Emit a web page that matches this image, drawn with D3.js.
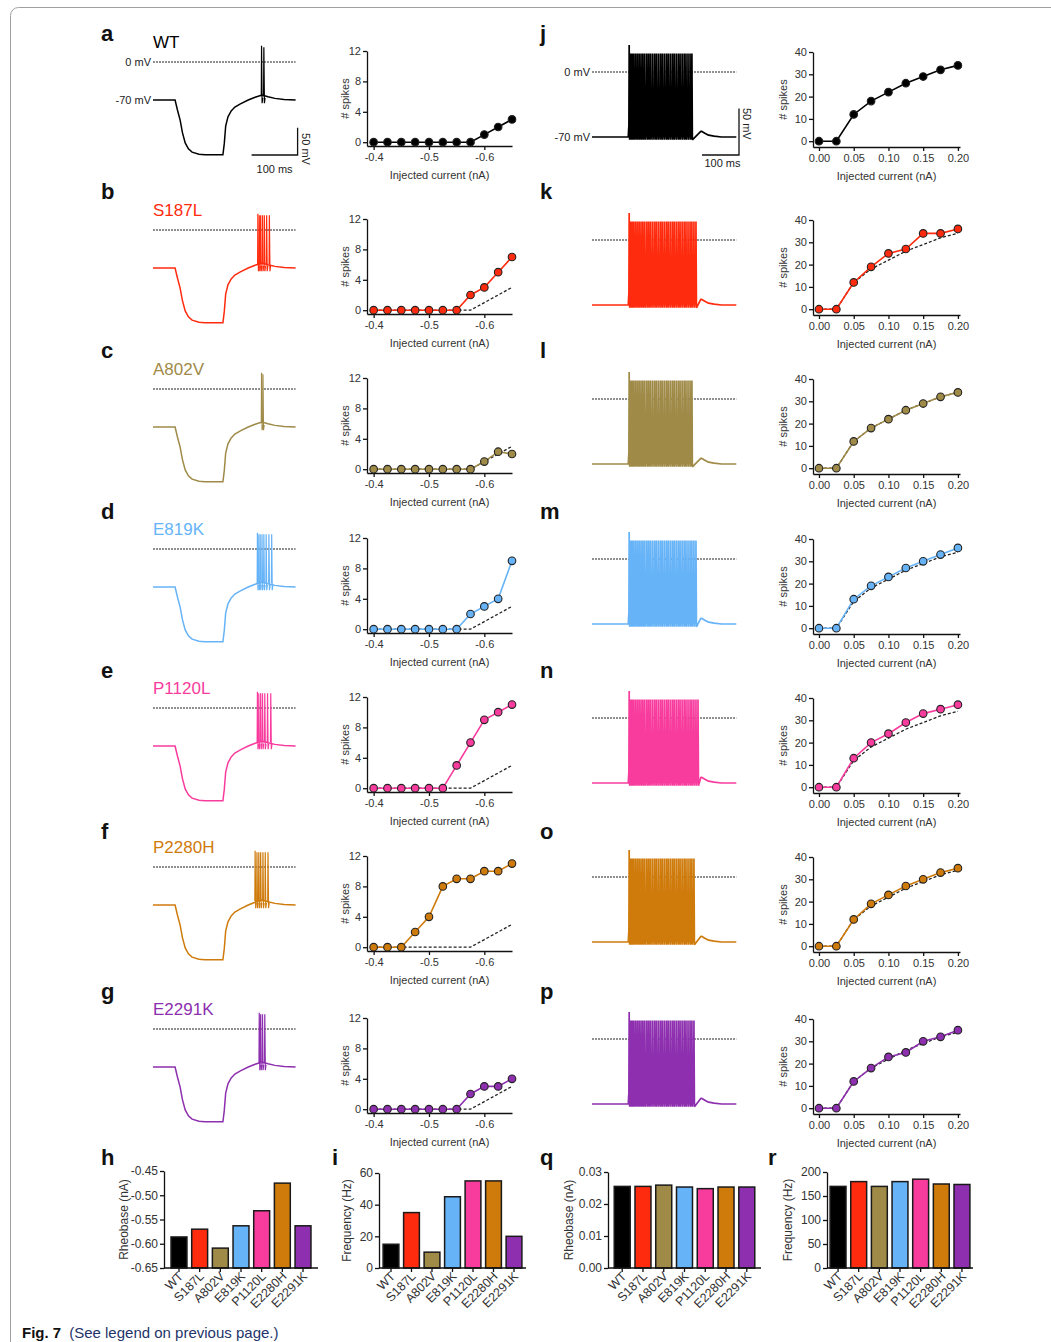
<!DOCTYPE html>
<html>
<head>
<meta charset="utf-8">
<script src="https://cdn.jsdelivr.net/npm/d3@7"></script>
<style>
  body { margin: 0; background: #fff; }
  svg text { font-family: Arial, "Liberation Sans", Helvetica, sans-serif; }
</style>
</head>
<body>
<svg id="fig" width="1051" height="1342"></svg>
<script>
// ---------------- data ----------------
const variants = ['WT', 'S187L', 'A802V', 'E819K', 'P1120L', 'P2280H', 'E2291K'];
const barCategories = ['WT', 'S187L', 'A802V', 'E819K', 'P1120L', 'E2280H', 'E2291K'];
const variantColors = ['#000000', '#ff2b0e', '#9f8a48', '#66b3f7', '#f73c9e', '#cf7b0c', '#8d2fae'];
const leftLetters = ['a', 'b', 'c', 'd', 'e', 'f', 'g'];
const rightLetters = ['j', 'k', 'l', 'm', 'n', 'o', 'p'];

// spikes vs hyperpolarising current (left column)
const hypCurrents = [-0.4, -0.425, -0.45, -0.475, -0.5, -0.525, -0.55, -0.575, -0.6, -0.625, -0.65];
const hypWT     = [0, 0, 0, 0, 0, 0, 0, 0, 1, 2, 3];
const hypS187L  = [0, 0, 0, 0, 0, 0, 0, 2, 3, 5, 7];
const hypA802V  = [0, 0, 0, 0, 0, 0, 0, 0, 1, 2.3, 2];
const hypE819K  = [0, 0, 0, 0, 0, 0, 0, 2, 3, 4, 9];
const hypP1120L = [0, 0, 0, 0, 0, 0, 3, 6, 9, 10, 11];
const hypP2280H = [0, 0, 0, 2, 4, 8, 9, 9, 10, 10, 11];
const hypE2291K = [0, 0, 0, 0, 0, 0, 0, 2, 3, 3, 4];
const hypTicks = [-0.4, -0.5, -0.6];
const hypSpikeTicks = [0, 4, 8, 12];

// spikes vs depolarising current (right column)
const depCurrents = [0, 0.025, 0.05, 0.075, 0.1, 0.125, 0.15, 0.175, 0.2];
const depWT     = [0, 0, 12, 18, 22, 26, 29, 32, 34];
const depS187L  = [0, 0, 12, 19, 25, 27, 34, 34, 36];
const depA802V  = [0, 0, 12, 18, 22, 26, 29, 32, 34];
const depE819K  = [0, 0, 13, 19, 23, 27, 30, 33, 36];
const depP1120L = [0, 0, 13, 20, 24, 29, 33, 35, 37];
const depP2280H = [0, 0, 12, 19, 23, 27, 30, 33, 35];
const depE2291K = [0, 0, 12, 18, 23, 25, 30, 32, 35];
const depTicks = [0, 0.05, 0.1, 0.15, 0.2];
const depSpikeTicks = [0, 10, 20, 30, 40];

// summary bars
const rheobaseHyp = [-0.586, -0.570, -0.609, -0.563, -0.532, -0.475, -0.563];
const freqHyp = [15, 35, 10, 45, 55, 55, 20];
const rheobaseDep = [0.0255, 0.0255, 0.0259, 0.0253, 0.0248, 0.0253, 0.0253];
const freqDep = [170, 180, 170, 180, 185, 175, 174];
const rheobaseHypTicks = [-0.65, -0.6, -0.55, -0.5, -0.45];
const freqHypTicks = [0, 20, 40, 60];
const rheobaseDepTicks = [0, 0.01, 0.02, 0.03];
const freqDepTicks = [0, 50, 100, 150, 200];

// example traces: rebound after hyperpolarising step (ms, mV)
const reboundTime = [0, 48, 53, 59, 64, 70, 77, 85, 100, 113, 152, 155, 158, 163, 170, 178, 190, 207, 222, 237, 250, 265, 285, 310];
const reboundVm   = [-70, -70, -88, -107, -130, -149, -160, -166, -170, -171, -171, -150, -118, -101, -90, -83, -77, -70, -65, -61, -64, -67, -69, -70];
const reboundSpikesWT     = [236, 241];
const reboundSpikesS187L  = [228, 231, 234, 238, 242, 247, 253];
const reboundSpikesA802V  = [236, 239];
const reboundSpikesE819K  = [227, 230, 233, 237, 241, 246, 252, 258];
const reboundSpikesP1120L = [227, 230, 234, 238, 243, 249, 256];
const reboundSpikesP2280H = [222, 226, 230, 234, 239, 244, 250];
const reboundSpikesE2291K = [231, 234, 238, 243];

// example traces: depolarising step (ms, mV)
const stepPreTime  = [0, 98, 99];
const stepPreVm    = [-70, -70, -62];
const stepPostTime = [294, 297, 305, 315, 330, 350, 390];
const stepPostVm   = [-64, -64, -66, -68, -69, -70, -70];
const stepOnset = 99;
const trainSpikeTimes = [1.5, 5, 9, 13.5, 18.5, 23.5, 28.5, 33.5, 38.5, 43.5, 49, 54, 59, 64.5, 70, 75,
  80.5, 86, 91, 96.5, 102, 107, 112.5, 118, 123, 128.5, 134, 139, 144.5, 150, 155, 160.5, 166, 171,
  176.5, 182, 187.5];

const hypSeries = [hypWT, hypS187L, hypA802V, hypE819K, hypP1120L, hypP2280H, hypE2291K];
const depSeries = [depWT, depS187L, depA802V, depE819K, depP1120L, depP2280H, depE2291K];
const reboundSpikes = [reboundSpikesWT, reboundSpikesS187L, reboundSpikesA802V, reboundSpikesE819K,
  reboundSpikesP1120L, reboundSpikesP2280H, reboundSpikesE2291K];

// ---------------- layout ----------------
const rowOffsets = [0, 168, 327, 487, 646, 805, 967];
const letterY = [41, 199, 358, 519, 678, 839, 999];
const tickFont = 11;

const svg = d3.select('#fig');

svg.append('rect')
  .attr('x', 10.5).attr('y', 7.5)
  .attr('width', 1100).attr('height', 1400).attr('rx', 8)
  .attr('fill', 'none').attr('stroke', '#a0a0a0');

function styleAxis(g) {
  g.selectAll('path, line').attr('stroke', '#111').attr('stroke-width', 1.3);
  g.selectAll('text').attr('font-size', tickFont).attr('fill', '#333')
    .attr('font-family', 'Arial, "Liberation Sans", sans-serif');
}

class FIChart {
  constructor(_config, _data) {
    this.config = {
      parent: _config.parent,
      xDomain: _config.xDomain,
      xRange: _config.xRange,
      yDomain: _config.yDomain,
      yRange: _config.yRange,
      xTicks: _config.xTicks,
      yTicks: _config.yTicks,
      xFormat: _config.xFormat,
      color: _config.color,
      labelOffset: _config.labelOffset
    };
    this.data = _data;
    this.initVis();
  }

  initVis() {
    let vis = this;
    vis.xScale = d3.scaleLinear().domain(vis.config.xDomain).range(vis.config.xRange);
    vis.yScale = d3.scaleLinear().domain(vis.config.yDomain).range(vis.config.yRange);
    vis.chart = vis.config.parent.append('g');

    vis.xAxis = d3.axisBottom(vis.xScale).tickValues(vis.config.xTicks)
      .tickFormat(vis.config.xFormat).tickSize(4).tickSizeOuter(0).tickPadding(3);
    vis.yAxis = d3.axisLeft(vis.yScale).tickValues(vis.config.yTicks)
      .tickFormat(d => d).tickSize(4).tickSizeOuter(0).tickPadding(2);

    vis.chart.append('g')
      .attr('transform', `translate(0,${vis.config.yRange[0]})`)
      .call(vis.xAxis).call(styleAxis);
    vis.chart.append('g')
      .attr('transform', `translate(${vis.config.xRange[0]},0)`)
      .call(vis.yAxis).call(styleAxis);

    vis.chart.append('text')
      .attr('x', (vis.config.xRange[0] + vis.config.xRange[1]) / 2)
      .attr('y', vis.config.yRange[0] + 33)
      .attr('text-anchor', 'middle').attr('font-size', 11).attr('fill', '#333')
      .text('Injected current (nA)');
    const cy = (vis.config.yRange[0] + vis.config.yRange[1]) / 2;
    const cx = vis.config.xRange[0] - vis.config.labelOffset;
    vis.chart.append('text')
      .attr('transform', `translate(${cx},${cy}) rotate(-90)`)
      .attr('text-anchor', 'middle').attr('font-size', 11).attr('fill', '#333')
      .text('# spikes');

    vis.renderVis();
  }

  renderVis() {
    let vis = this;
    const line = d3.line().x(d => vis.xScale(d[0])).y(d => vis.yScale(d[1]));

    if (vis.data.ref) {
      vis.chart.append('path')
        .attr('d', line(vis.data.x.map((x, i) => [x, vis.data.ref[i]])))
        .attr('fill', 'none').attr('stroke', '#222').attr('stroke-width', 1.3)
        .attr('stroke-dasharray', '3,2');
    }
    const pts = vis.data.x.map((x, i) => [x, vis.data.y[i]]);
    vis.chart.append('path')
      .attr('d', line(pts))
      .attr('fill', 'none').attr('stroke', vis.config.color).attr('stroke-width', 1.6);
    vis.chart.selectAll('.pt')
      .data(pts)
      .join('circle')
      .attr('class', 'pt')
      .attr('cx', d => vis.xScale(d[0]))
      .attr('cy', d => vis.yScale(d[1]))
      .attr('r', 3.8)
      .attr('fill', vis.config.color)
      .attr('stroke', '#222').attr('stroke-width', 1.1);
  }
}

class BarChart {
  constructor(_config, _data) {
    this.config = {
      parent: _config.parent,
      xRange: _config.xRange,
      paddingOuter: _config.paddingOuter,
      yDomain: _config.yDomain,
      yRange: _config.yRange,
      yTicks: _config.yTicks,
      yFormat: _config.yFormat,
      yLabel: _config.yLabel,
      labelOffset: _config.labelOffset
    };
    this.data = _data;
    this.initVis();
  }

  initVis() {
    let vis = this;
    vis.xScale = d3.scaleBand()
      .domain(barCategories)
      .range(vis.config.xRange)
      .paddingInner(0.23)
      .paddingOuter(vis.config.paddingOuter);
    vis.yScale = d3.scaleLinear().domain(vis.config.yDomain).range(vis.config.yRange);
    vis.colorScale = d3.scaleOrdinal().domain(barCategories).range(variantColors);
    vis.chart = vis.config.parent.append('g');

    vis.renderVis();

    const y0 = vis.config.yRange[0];
    vis.chart.append('line')
      .attr('x1', vis.config.xRange[0]).attr('x2', vis.config.xRange[1])
      .attr('y1', y0).attr('y2', y0)
      .attr('stroke', '#111').attr('stroke-width', 1.3);
    vis.chart.selectAll('.xtick')
      .data(barCategories)
      .join('line')
      .attr('class', 'xtick')
      .attr('x1', d => vis.xScale(d) + vis.xScale.bandwidth() / 2)
      .attr('x2', d => vis.xScale(d) + vis.xScale.bandwidth() / 2)
      .attr('y1', y0).attr('y2', y0 + 4)
      .attr('stroke', '#111').attr('stroke-width', 1.3);
    vis.chart.selectAll('.xlab')
      .data(barCategories)
      .join('text')
      .attr('class', 'xlab')
      .attr('transform', d => `translate(${vis.xScale(d) + vis.xScale.bandwidth() / 2 + 5},${y0 + 9}) rotate(-45)`)
      .attr('text-anchor', 'end').attr('font-size', 12.5).attr('fill', '#333')
      .text(d => d);

    vis.yAxis = d3.axisLeft(vis.yScale).tickValues(vis.config.yTicks)
      .tickFormat(vis.config.yFormat).tickSize(4).tickSizeOuter(0).tickPadding(2);
    vis.chart.append('g')
      .attr('transform', `translate(${vis.config.xRange[0]},0)`)
      .call(vis.yAxis).call(styleAxis)
      .selectAll('text').attr('font-size', 12);

    const cy = (vis.config.yRange[0] + vis.config.yRange[1]) / 2;
    vis.chart.append('text')
      .attr('transform', `translate(${vis.config.xRange[0] - vis.config.labelOffset},${cy}) rotate(-90)`)
      .attr('text-anchor', 'middle').attr('font-size', 12).attr('fill', '#333')
      .text(vis.config.yLabel);
  }

  renderVis() {
    let vis = this;
    vis.chart.selectAll('.bar')
      .data(barCategories.map((c, i) => ({ name: c, value: vis.data[i] })))
      .join('rect')
      .attr('class', 'bar')
      .attr('x', d => vis.xScale(d.name))
      .attr('width', vis.xScale.bandwidth())
      .attr('y', d => vis.yScale(d.value))
      .attr('height', d => vis.config.yRange[0] - vis.yScale(d.value))
      .attr('fill', d => vis.colorScale(d.name))
      .attr('stroke', '#1a1a1a').attr('stroke-width', 1.5);
  }
}

// ---------------- traces ----------------
function drawReboundTrace(i) {
  const dashY = 62 + rowOffsets[i];
  const t = d3.scaleLinear().domain([0, 310]).range([153, 153 + 310 * 0.46]);
  const v = d3.scaleLinear().domain([0, -70]).range([dashY, dashY + 38]);
  const g = svg.append('g');
  const color = variantColors[i];

  g.append('line')
    .attr('x1', t(0)).attr('x2', t(310)).attr('y1', dashY).attr('y2', dashY)
    .attr('stroke', '#222').attr('stroke-width', 1.1).attr('stroke-dasharray', '2,1');

  const line = d3.line().x(d => t(d[0])).y(d => v(d[1]));
  g.append('path')
    .attr('d', line(reboundTime.map((x, k) => [x, reboundVm[k]])))
    .attr('fill', 'none').attr('stroke', color).attr('stroke-width', 1.5);

  reboundSpikes[i].forEach((ts, k) => {
    const peak = k === 0 ? 30 : 27;
    g.append('path')
      .attr('d', line([[ts - 0.6, -63], [ts, peak], [ts + 1.2, -76], [ts + 2.6, -66]]))
      .attr('fill', 'none').attr('stroke', color).attr('stroke-width', 1.2);
  });

  if (i === 0) {
    g.append('text').attr('x', 151).attr('y', dashY + 4).attr('text-anchor', 'end')
      .attr('font-size', 11).attr('fill', '#222').text('0 mV');
    g.append('text').attr('x', 151).attr('y', v(-70) + 4).attr('text-anchor', 'end')
      .attr('font-size', 11).attr('fill', '#222').text('-70 mV');
    const hx1 = t(310) + 2, hy = 155;
    const hx0 = hx1 - (t(100) - t(0));
    const vTop = hy - (v(-50) - v(0));
    g.append('path').attr('d', `M${hx0},${hy}H${hx1}V${vTop}`)
      .attr('fill', 'none').attr('stroke', '#111').attr('stroke-width', 1.3);
    g.append('text').attr('x', (hx0 + hx1) / 2).attr('y', hy + 18).attr('text-anchor', 'middle')
      .attr('font-size', 11).attr('fill', '#222').text('100 ms');
    g.append('text').attr('transform', `translate(${hx1 + 4},${hy - 6}) rotate(90)`)
      .attr('text-anchor', 'middle').attr('font-size', 11).attr('fill', '#222').text('50 mV');
  }
}

function drawStepTrace(i) {
  const dashY = 72 + rowOffsets[i];
  const t = d3.scaleLinear().domain([0, 390]).range([592, 592 + 390 * 0.37]);
  const v = d3.scaleLinear().domain([0, -70]).range([dashY, dashY + 65]);
  const g = svg.append('g');
  const color = variantColors[i];

  g.append('line')
    .attr('x1', t(0)).attr('x2', t(390)).attr('y1', dashY).attr('y2', dashY)
    .attr('stroke', '#222').attr('stroke-width', 1.1).attr('stroke-dasharray', '2,1');

  const nSpikes = depSeries[i][depSeries[i].length - 1];
  const pts = stepPreTime.map((x, k) => [x, stepPreVm[k]]);
  trainSpikeTimes.slice(0, nSpikes).forEach((ts, k) => {
    const tt = stepOnset + ts;
    pts.push([tt - 0.8, -58], [tt, k === 0 ? 29 : 20], [tt + 1.3, -73]);
  });
  stepPostTime.forEach((x, k) => pts.push([x, stepPostVm[k]]));

  const line = d3.line().x(d => t(d[0])).y(d => v(d[1]));
  g.append('path')
    .attr('d', line(pts))
    .attr('fill', 'none').attr('stroke', color).attr('stroke-width', 1.7)
    .attr('stroke-linejoin', 'bevel');

  if (i === 0) {
    g.append('text').attr('x', 590).attr('y', dashY + 4).attr('text-anchor', 'end')
      .attr('font-size', 11).attr('fill', '#222').text('0 mV');
    g.append('text').attr('x', 590).attr('y', v(-70) + 4).attr('text-anchor', 'end')
      .attr('font-size', 11).attr('fill', '#222').text('-70 mV');
    const hx1 = 739, hy = 155;
    const hx0 = hx1 - (t(100) - t(0));
    const vTop = hy - (v(-50) - v(0));
    g.append('path').attr('d', `M${hx0},${hy}H${hx1}V${vTop}`)
      .attr('fill', 'none').attr('stroke', '#111').attr('stroke-width', 1.3);
    g.append('text').attr('x', (hx0 + hx1) / 2 + 2).attr('y', hy + 12).attr('text-anchor', 'middle')
      .attr('font-size', 11).attr('fill', '#222').text('100 ms');
    g.append('text').attr('transform', `translate(${hx1 + 4},${(hy + vTop) / 2 - 8}) rotate(90)`)
      .attr('text-anchor', 'middle').attr('font-size', 11).attr('fill', '#222').text('50 mV');
  }
}

// ---------------- draw rows ----------------
variants.forEach((name, i) => {
  const off = rowOffsets[i];

  svg.append('text').attr('x', 101).attr('y', letterY[i])
    .attr('font-size', 22).attr('font-weight', 'bold').attr('fill', '#111').text(leftLetters[i]);
  svg.append('text').attr('x', 540).attr('y', letterY[i])
    .attr('font-size', 22).attr('font-weight', 'bold').attr('fill', '#111').text(rightLetters[i]);

  svg.append('text').attr('x', 153).attr('y', 48 + off)
    .attr('font-size', 17).attr('fill', variantColors[i]).text(name);

  drawReboundTrace(i);
  drawStepTrace(i);

  new FIChart({
    parent: svg,
    xDomain: [-0.388, -0.65], xRange: [367, 512],
    yDomain: [-0.5, 12], yRange: [146 + off, 51 + off],
    xTicks: hypTicks, yTicks: hypSpikeTicks,
    xFormat: d => d.toFixed(1),
    color: variantColors[i],
    labelOffset: 18
  }, { x: hypCurrents, y: hypSeries[i], ref: i === 0 ? null : hypWT });

  new FIChart({
    parent: svg,
    xDomain: [-0.0086, 0.203], xRange: [813, 960],
    yDomain: [-2.6, 40], yRange: [147 + off, 52 + off],
    xTicks: depTicks, yTicks: depSpikeTicks,
    xFormat: d => d.toFixed(2),
    color: variantColors[i],
    labelOffset: 26
  }, { x: depCurrents, y: depSeries[i], ref: i === 0 ? null : depWT });
});

// ---------------- summary bars ----------------
[['h', 101], ['i', 332], ['q', 540], ['r', 768]].forEach(([l, x]) => {
  svg.append('text').attr('x', x).attr('y', 1165)
    .attr('font-size', 22).attr('font-weight', 'bold').attr('fill', '#111').text(l);
});

new BarChart({
  parent: svg, xRange: [164, 318], paddingOuter: 0.34,
  yDomain: [-0.65, -0.45], yRange: [1268, 1171], yTicks: rheobaseHypTicks,
  yFormat: d => d.toFixed(2), yLabel: 'Rheobase (nA)', labelOffset: 36
}, rheobaseHyp);

new BarChart({
  parent: svg, xRange: [379, 526], paddingOuter: 0.2,
  yDomain: [0, 60], yRange: [1268, 1173], yTicks: freqHypTicks,
  yFormat: d => d, yLabel: 'Frequency (Hz)', labelOffset: 28
}, freqHyp);

new BarChart({
  parent: svg, xRange: [608, 761], paddingOuter: 0.3,
  yDomain: [0, 0.03], yRange: [1268, 1172], yTicks: rheobaseDepTicks,
  yFormat: d => d.toFixed(2), yLabel: 'Rheobase (nA)', labelOffset: 35
}, rheobaseDep);

new BarChart({
  parent: svg, xRange: [827, 973], paddingOuter: 0.15,
  yDomain: [0, 200], yRange: [1268, 1172], yTicks: freqDepTicks,
  yFormat: d => d, yLabel: 'Frequency (Hz)', labelOffset: 35
}, freqDep);

// caption
const cap = svg.append('text').attr('x', 22).attr('y', 1338).attr('font-size', 15);
cap.append('tspan').attr('font-weight', 'bold').attr('fill', '#111').text('Fig. 7');
cap.append('tspan').attr('dx', 8).attr('fill', '#23346a').text('(See legend on previous page.)');
</script>
</body>
</html>
